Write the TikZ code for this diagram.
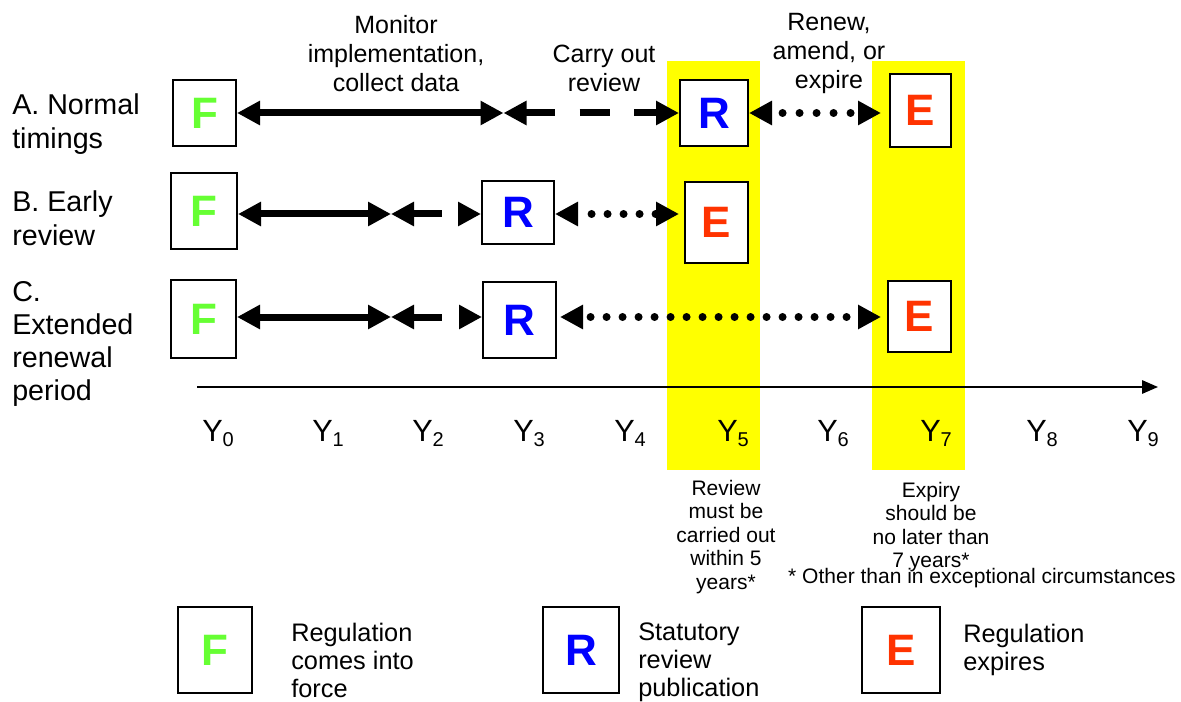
\documentclass[tikz,border=0pt]{standalone}
\usepackage{fontspec}
\setmainfont{Liberation Sans}
\usetikzlibrary{arrows.meta}
\definecolor{fgreen}{HTML}{66FF33}
\definecolor{rblue}{HTML}{0000FF}
\definecolor{ered}{HTML}{FF3300}
\definecolor{bandyellow}{HTML}{FFFF00}
\newcommand\ysub[1]{\raisebox{-3.75pt}{\fontsize{15}{15}\selectfont #1}}
\begin{document}
\begin{tikzpicture}[x=0.75pt,y=-0.75pt,
  box/.style={draw, line width=1.5pt, fill=white, inner sep=0pt, font=\fontsize{33}{33}\selectfont\bfseries},
  solidarr/.style={line width=5.25pt, {Triangle[length=17.25pt,width=17.25pt]}-{Triangle[length=17.25pt,width=17.25pt]}},
  dasharr/.style={solidarr, dash pattern=on 22.5pt off 18.4pt},
  dasharrb/.style={solidarr, dash pattern=on 21.75pt off 22.5pt},
  dotarr/.style={line width=6pt, line cap=round, {Triangle[length=17.25pt,width=17.25pt]}-{Triangle[length=17.25pt,width=17.25pt]}},
  rowlab/.style={font=\fontsize{21.5}{25.5}\selectfont, align=left, anchor=west, inner sep=0pt},
  toplab/.style={font=\fontsize{18.75}{21.75}\selectfont, align=center, inner sep=0pt},
  ylab/.style={font=\fontsize{23}{23}\selectfont, anchor=base west, inner sep=0pt},
  note/.style={font=\fontsize{15.75}{17.6}\selectfont, align=center, inner sep=0pt},
  legtext/.style={font=\fontsize{19}{21}\selectfont, align=left, anchor=west, inner sep=0pt}
]
\useasboundingbox (0,0) rectangle (1181,702);
% yellow bands
\fill[bandyellow] (667,61) rectangle (760,470);
\fill[bandyellow] (872,61) rectangle (965,470);

% junction coordinates
\coordinate (mA) at (503.5,113);
\coordinate (mB) at (391,214);
\coordinate (mC) at (391,317);

% boxes
\node[box, minimum width=47.25pt, minimum height=49.5pt, text=fgreen] (FA) at (204.5,113) {F};
\node[box, minimum width=49.5pt, minimum height=57pt, text=fgreen] (FB) at (204,211) {F};
\node[box, minimum width=48.75pt, minimum height=58.5pt, text=fgreen] (FC) at (203.5,319) {F};
\node[box, minimum width=51pt, minimum height=49.5pt, text=rblue] (RA) at (714,113) {R};
\node[box, minimum width=54pt, minimum height=47.25pt, text=rblue] (RB) at (518,212.5) {R};
\node[box, minimum width=54.75pt, minimum height=57pt, text=rblue] (RC) at (519.5,320) {R};
\node[box, minimum width=45.75pt, minimum height=54.75pt, text=ered] (EA) at (920.5,110.5) {E};
\node[box, minimum width=47.25pt, minimum height=60.75pt, text=ered] (EB) at (716.5,222.5) {E};
\node[box, minimum width=47.25pt, minimum height=53.25pt, text=ered] (EC) at (919.5,316.5) {E};

% row A connectors
\draw[solidarr] (FA.east |- mA) -- (mA);
\draw[dasharr] (mA) -- (mA -| RA.west);
\draw[dotarr, dash pattern=on 0pt off 12.75pt, dash phase=3.75pt, shorten >=6pt] (RA.east |- mA) -- (mA -| EA.west);
% row B connectors
\draw[solidarr] (FB.east |- mB) -- (mB);
\draw[dasharrb] (mB) -- (mB -| RB.west);
\draw[dotarr, dash pattern=on 0pt off 12pt, dash phase=0.75pt, shorten >=3.75pt] (RB.east |- mB) -- (mB -| EB.west);
% row C connectors
\draw[solidarr] (FC.east |- mC) -- (mC);
\draw[dasharrb] (mC) -- (mC -| RC.west);
\draw[dotarr, dash pattern=on 0pt off 12pt, dash phase=5.25pt, shorten <=2.25pt, shorten >=4.5pt] (RC.east |- mC) -- (mC -| EC.west);

% time axis
\coordinate (axL) at (197,387);
\coordinate (axR) at (1158,387);
\draw[line width=1.5pt, -{Triangle[length=12pt,width=10pt]}] (axL) -- (axR);

\node[ylab] (y0) at (202,441) {Y\ysub{0}};
\node[ylab] (y1) at (312,441) {Y\ysub{1}};
\node[ylab] (y2) at (412,441) {Y\ysub{2}};
\node[ylab] (y3) at (513,441) {Y\ysub{3}};
\node[ylab] (y4) at (614,441) {Y\ysub{4}};
\node[ylab] (y5) at (717,441) {Y\ysub{5}};
\node[ylab] (y6) at (817,441) {Y\ysub{6}};
\node[ylab] (y7) at (920,441) {Y\ysub{7}};
\node[ylab] (y8) at (1026,441) {Y\ysub{8}};
\node[ylab] (y9) at (1127,441) {Y\ysub{9}};

% row labels
\node[rowlab] (labA) at (12,124) {A. Normal\\timings};
\node[rowlab] (labB) at (12,218) {B. Early\\review};
\node[rowlab, font=\fontsize{21.5}{24.75}\selectfont] (labC) at (12,343.5) {C.\\Extended\\renewal\\period};

% top labels
\node[toplab] (tMon) at (396,54) {Monitor\\implementation,\\collect data};
\node[toplab] (tCar) at (604,68.5) {Carry out\\review};
\node[toplab] (tRen) at (829,53) {Renew,\\amend, or\\expire};

% notes
\node[note] (nRev) at (726,537) {Review\\must be\\carried out\\within 5\\years*};
\node[note] (nExp) at (931,527) {Expiry\\should be\\no later than\\7 years*};
\node[note] (nOth) at (982,578) {* Other than in exceptional circumstances};

% legend
\node[box, minimum width=55.5pt, minimum height=64.5pt, text=fgreen] (LF) at (215,650) {F};
\node[box, minimum width=57pt, minimum height=64.5pt, text=rblue] (LR) at (581,650) {R};
\node[box, minimum width=58.5pt, minimum height=64.5pt, text=ered] (LE) at (901,650) {E};
\node[legtext] (tLF) at (291,660) {Regulation\\comes into\\force};
\node[legtext] (tLR) at (638,662) {Statutory\\review\\publication};
\node[legtext] (tLE) at (963,649.5) {Regulation\\expires};
\end{tikzpicture}
\end{document}
